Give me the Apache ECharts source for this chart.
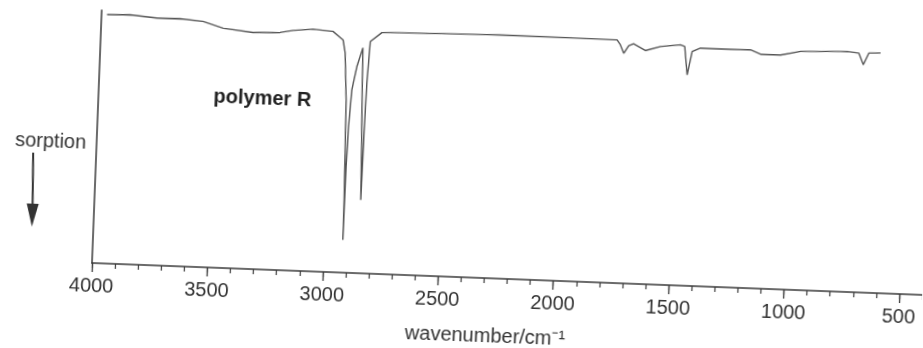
<!DOCTYPE html>
<html>
<head>
<meta charset="utf-8">
<script src="https://cdn.jsdelivr.net/npm/echarts@6/dist/echarts.min.js"></script>
<style>
  html, body { margin: 0; padding: 0; background: #fff; overflow: hidden; }
  /* the scanned figure is tilted a little, so the whole chart is turned round the axis corner */
  #chart { width: 923px; height: 348px; transform: rotate(2.2deg); transform-origin: 92px 263px; }
</style>
</head>
<body>
<div id="chart"></div>
<script>
  // IR spectrum of polymer R (wavenumber in cm-1, transmission in %)
  var wavenumbers = [3976, 3877, 3760, 3660, 3559, 3471, 3341, 3224, 3168, 3082, 2995, 2950, 2939, 2927, 2923, 2919, 2918,
    2916, 2912, 2904, 2886, 2863, 2858, 2852, 2847, 2844, 2840, 2832, 2783, 2705, 2272, 1923, 1764, 1749, 1733, 1713,
    1692, 1640, 1575, 1489, 1470, 1455, 1437, 1402, 1272, 1185, 1141, 1054, 968, 766, 715, 694, 672, 621];
  var transmission = [98.3, 98.6, 97.7, 97.8, 97.1, 94.7, 93.5, 93.9, 94.9, 95.7, 95.1, 91.9, 86.8, 68.3, 48.5, 28.7, 12.9,
    41.9, 57.8, 72.3, 81.6, 89.1, 68.5, 48.7, 29.0, 55.5, 75.3, 91.7, 95.4, 95.6, 96.3, 96.2, 96.1, 94.2, 90.9, 93.9,
    94.8, 92.3, 94.1, 95.1, 94.5, 83.3, 92.6, 94.1, 94.1, 94.2, 92.6, 92.6, 94.3, 95.0, 94.5, 90.0, 94.7, 94.9];
  var majorTicks = [500, 1000, 1500, 2000, 2500, 3000, 3500, 4000];

  var spectrum = [];
  for (var i = 0; i < wavenumbers.length; i++) {
    spectrum.push([wavenumbers[i], transmission[i]]);
  }

  var myChart = echarts.init(document.getElementById('chart'));
  var ink = '#3a3a3a';
  var font = 'Liberation Sans, Arial, sans-serif';
  option = {
    animation: false,
    backgroundColor: '#fff',
    textStyle: { fontFamily: font },
    grid: { left: 92, right: 0, top: 10, bottom: 85 },
    xAxis: [
      {
        // minor ticks every 100 cm-1
        type: 'value', inverse: true, min: 400, max: 4000, interval: 100,
        position: 'bottom',
        axisLine: { lineStyle: { color: ink, width: 1.5 } },
        axisTick: { length: 5, lineStyle: { color: ink, width: 1.2 } },
        axisLabel: { show: false },
        splitLine: { show: false }
      },
      {
        // major ticks and labels
        type: 'value', inverse: true, min: 400, max: 4000, interval: 100,
        position: 'bottom',
        axisLine: { show: false },
        axisTick: { length: 9, customValues: majorTicks, lineStyle: { color: ink, width: 1.3 } },
        axisLabel: {
          customValues: majorTicks, margin: 13, fontSize: 20, color: '#333',
          formatter: function (v) { return String(v); }
        },
        splitLine: { show: false },
        name: 'wavenumber/cm\u207B\u00B9',
        nameLocation: 'middle',
        nameGap: 48,
        nameTextStyle: { fontSize: 20, color: '#333', padding: [0, 40, 0, 0] }
      }
    ],
    yAxis: {
      type: 'value', min: 0, max: 100,
      axisLine: { show: true, lineStyle: { color: ink, width: 1.5 } },
      axisTick: { show: false },
      axisLabel: { show: false },
      splitLine: { show: false }
    },
    graphic: [
      { type: 'text', x: 256, y: 92,
        style: { text: 'polymer R', font: 'bold 20px ' + font, fill: '#222', align: 'center', verticalAlign: 'middle' } },
      { type: 'text', x: 46, y: 143,
        style: { text: 'sorption', font: '20px ' + font, fill: '#333', align: 'center', verticalAlign: 'middle' } },
      { type: 'line', shape: { x1: 29, y1: 155, x2: 30.5, y2: 210 }, style: { stroke: '#333', lineWidth: 2 } },
      { type: 'polygon', shape: { points: [[24.5, 206], [36.5, 206], [30.5, 229]] }, style: { fill: '#333' } }
    ],
    series: [
      {
        name: 'polymer R',
        type: 'line',
        xAxisIndex: 0,
        data: spectrum,
        showSymbol: false,
        smooth: false,
        lineStyle: { color: '#555', width: 1.4 }
      }
    ]
  };
  myChart.setOption(option);
</script>
</body>
</html>
